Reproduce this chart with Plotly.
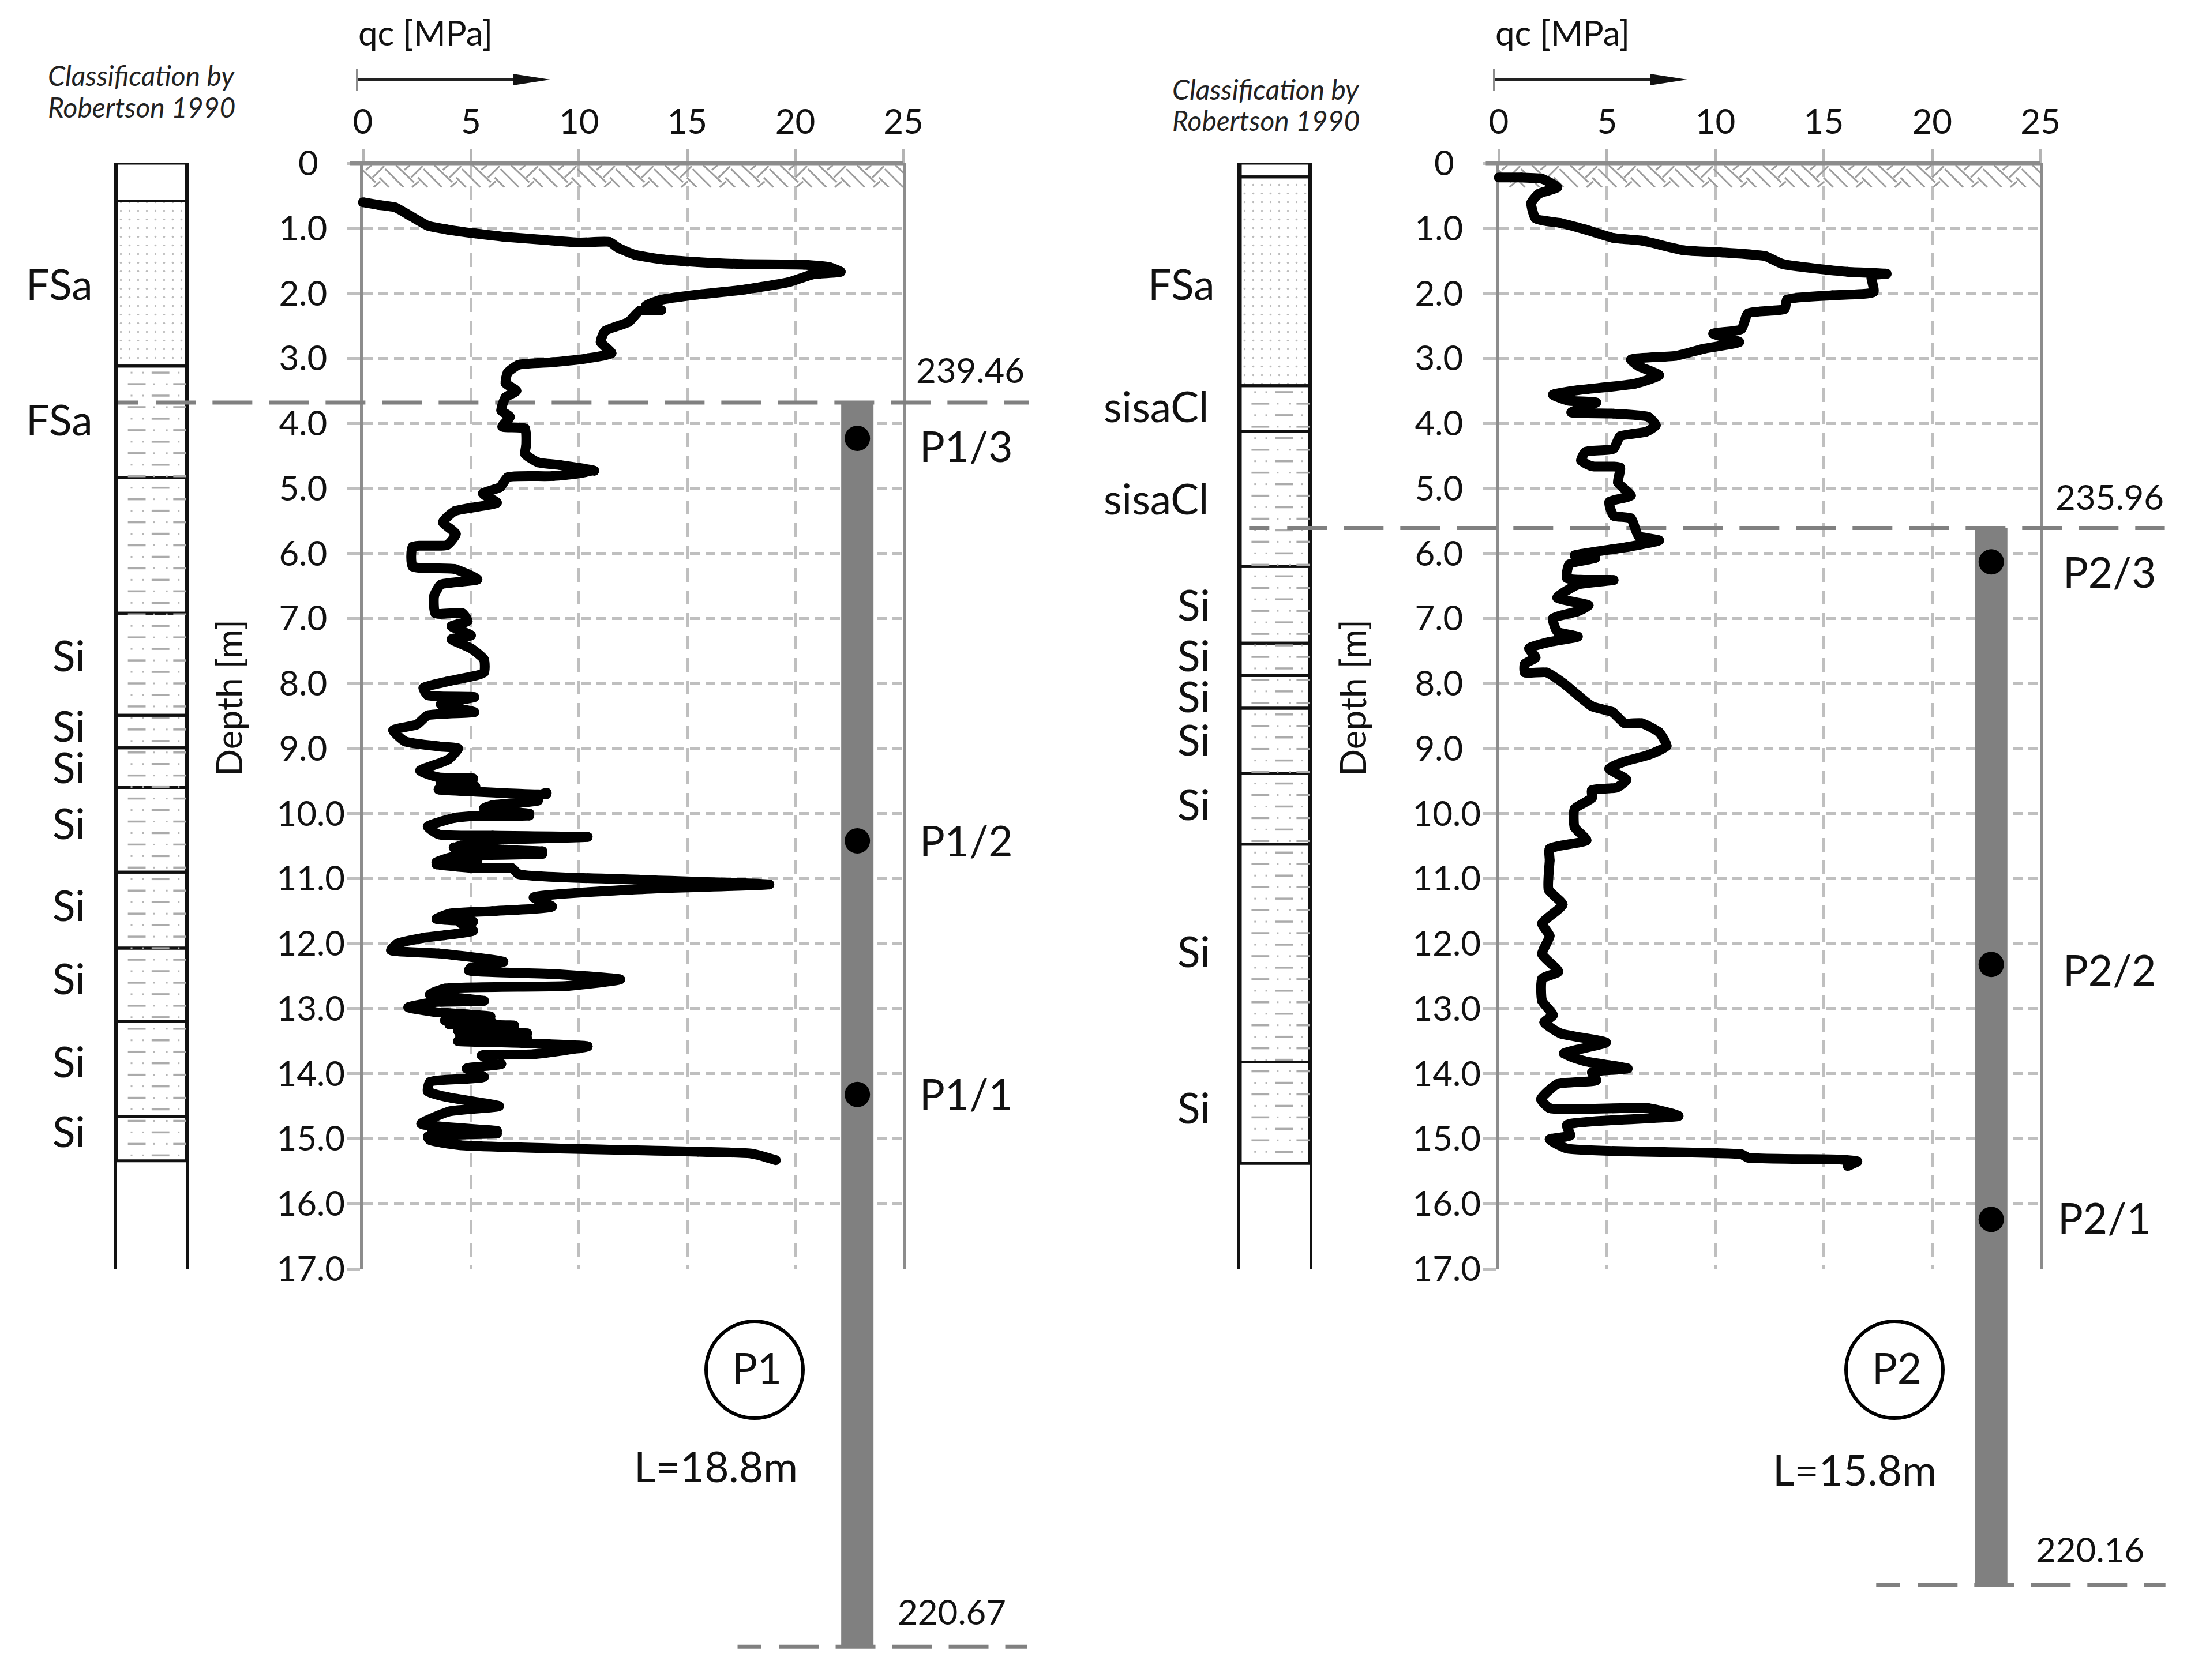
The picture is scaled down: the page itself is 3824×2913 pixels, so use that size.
import plotly.graph_objects as go

W, H = 3824, 2913
FONT = "Lato"
TOP, BOT = 283, 2200
OFF = 8  # the page body adds an 8px margin around the figure

# ---------- data ----------
p1_qc = [0,0.7,1.5,2.2,3.0,3.9,5.2,6.5,8.4,10.0,11.4,11.8,12.6,13.9,15.5,17.5,20.4,21.6,22.1,20.8,19.7,17.5,15.5,13.8,13.1,13.8,12.8,12.3,11.2,11.0,11.5,10.4,8.8,7.2,6.7,6.6,7.1,6.6,6.4,6.8,6.45,7.5,7.55,7.5,8.1,9.1,10.7,8.8,6.7,6.35,5.55,6.2,4.25,3.7,4.3,3.9,2.3,2.3,4.25,5.3,3.6,3.3,3.35,4.6,4.85,4.1,5.0,4.1,5.0,5.6,5.6,3.9,2.8,
         3.0,5.15,3.6,5.15,3.0,2.5,1.4,1.95,3.6,4.4,3.95,2.65,3.45,5.1,3.6,5.2,3.5,5.0,8.5,8.5,7.9,8.1,6.0,5.6,7.7,6.2,7.7,5.0,4.2,3.0,3.5,6.0,10.4,6.5,5.3,4.2,8.3,4.3,8.3,4.2,3.4,5.3,3.4,5.3,6.9,7.2,13.0,18.8,13.0,7.9,8.75,6.0,4.0,3.4,5.1,4.5,5.1,3.8,2.8,1.6,1.3,3.5,6.5,5.0,4.9,9.0,11.9,9.5,3.8,3.1,5.6,3.3,2.1,3.3,5.9,3.8,6.0,4.0,7.0,4.4,7.6,4.5,7.6,4.4,7.5,10.4,7.9,5.5,6.4,4.8,5.6,3.1,3.0,3.9,6.3,4.0,2.7,6.2,3.2,6.2,3.0,3.1,4.5,15.5,18.0,19.1]
p1_depth = [0.6,0.64,0.68,0.81,0.96,1.02,1.08,1.13,1.18,1.22,1.21,1.3,1.41,1.48,1.52,1.55,1.56,1.6,1.67,1.71,1.83,1.95,2.02,2.1,2.19,2.26,2.27,2.44,2.58,2.75,2.92,3.0,3.06,3.1,3.22,3.38,3.5,3.6,3.8,3.9,4.05,4.08,4.34,4.47,4.6,4.64,4.73,4.81,4.83,4.98,5.08,5.22,5.35,5.52,5.7,5.87,5.9,6.2,6.24,6.4,6.48,6.65,6.92,6.92,7.04,7.12,7.26,7.32,7.46,7.63,7.83,7.97,8.07,
            8.18,8.21,8.32,8.44,8.49,8.63,8.72,8.89,8.97,9.0,9.17,9.34,9.44,9.46,9.53,9.58,9.63,9.66,9.7,9.68,9.76,9.8,9.87,9.92,10.0,9.97,10.03,10.04,10.07,10.2,10.32,10.34,10.36,10.4,10.44,10.52,10.58,10.56,10.62,10.66,10.75,10.72,10.78,10.84,10.84,10.93,11.02,11.09,11.16,11.29,11.43,11.5,11.54,11.62,11.66,11.68,11.8,11.87,11.91,12.0,12.1,12.15,12.28,12.37,12.41,12.47,12.55,12.65,12.69,12.78,12.88,12.9,12.98,13.05,13.12,13.18,13.22,13.24,13.26,13.34,13.38,13.42,13.46,13.5,13.53,13.58,13.7,13.72,13.85,13.92,14.05,14.13,14.27,14.36,14.5,14.58,14.77,14.88,14.9,14.92,14.97,15.02,15.1,15.2,15.23,15.33]

p2_qc = [0,1.05,2.0,2.7,1.85,1.5,1.7,2.85,4.0,5.3,6.6,8.55,10.2,12.3,13.1,16.1,17.9,17.2,17.3,15.4,13.3,13.2,11.5,11.2,9.9,11.1,9.5,8.2,6.1,6.45,7.4,6.3,3.65,2.5,3.2,4.5,3.35,5.3,6.9,7.25,6.8,5.6,5.3,4.0,3.8,4.3,5.6,5.5,6.1,5.1,5.3,6.1,6.45,7.4,5.95,3.5,4.45,3.25,3.15,5.3,3.65,2.7,4.15,3.65,2.5,2.7,3.65,2.35,1.4,1.7,1.2,1.2,2.2,3.0,
         3.65,4.3,5.25,5.8,6.6,7.4,7.75,6.9,5.8,5.1,5.9,5.45,4.3,4.3,3.5,3.5,4.05,2.35,2.35,2.3,2.95,2.0,2.35,2.0,2.75,2.0,2.0,2.5,2.1,2.85,4.95,3.0,4.0,5.95,4.3,4.5,2.7,1.95,2.35,6.9,8.3,3.15,3.3,2.35,3.15,11.2,11.5,15.75,16.55,16.1]
p2_depth = [0.22,0.22,0.24,0.37,0.47,0.61,0.85,0.92,1.02,1.15,1.19,1.34,1.37,1.43,1.55,1.67,1.7,1.73,1.98,2.03,2.1,2.24,2.31,2.55,2.62,2.75,2.85,2.96,3.02,3.12,3.26,3.39,3.49,3.56,3.65,3.68,3.83,3.85,3.9,4.03,4.13,4.2,4.39,4.44,4.57,4.66,4.68,4.91,5.11,5.21,5.42,5.46,5.73,5.8,5.9,6.03,6.07,6.17,6.38,6.41,6.48,6.68,6.8,6.89,7.0,7.2,7.28,7.36,7.46,7.6,7.7,7.83,7.83,8.0,
            8.18,8.35,8.44,8.61,8.61,8.75,8.96,9.1,9.2,9.31,9.48,9.6,9.64,9.76,9.93,10.21,10.41,10.54,10.72,11.17,11.4,11.69,11.88,12.16,12.43,12.54,12.88,13.1,13.21,13.38,13.52,13.69,13.81,13.92,13.98,14.1,14.16,14.39,14.53,14.53,14.65,14.79,14.95,15.01,15.15,15.24,15.29,15.32,15.35,15.42]

qc_ticks = [0, 5, 10, 15, 20, 25]
depth_ticks = list(range(0, 18))

p1_layer_tops = [0, 0.58, 3.12, 4.83, 6.92, 8.49, 8.99, 9.6, 10.9, 12.07, 13.2, 14.66]
p1_layer_bots = [0.58, 3.12, 4.83, 6.92, 8.49, 8.99, 9.6, 10.9, 12.07, 13.2, 14.66, 15.34]
p1_layer_kind = ["fill", "sand"] + ["silt"] * 10
p2_layer_tops = [0, 0.21, 3.42, 4.12, 6.2, 7.38, 7.88, 8.38, 9.38, 10.47, 13.82]
p2_layer_bots = [0.21, 3.42, 4.12, 6.2, 7.38, 7.88, 8.38, 9.38, 10.47, 13.82, 15.38]
p2_layer_kind = ["fill", "sand"] + ["silt"] * 9

p1_pile_x, p1_pile_top, p1_pile_bot = 22.87, 3.68, 22.81
p2_pile_x, p2_pile_top, p2_pile_bot = 22.73, 5.61, 21.86
p1_sensor_depth = [4.23, 10.42, 14.32]
p2_sensor_depth = [6.13, 12.32, 16.24]

# ---------- helpers ----------
def fx(px): return (px - OFF) / W
def fy(px): return 1 - (px - OFF) / H

fig = go.Figure()
ydomain = [fy(BOT), fy(TOP)]

def tick_text(v):
    if v == 0:
        return "0" + "\u00a0" * 3
    s = f"{v}.0"
    return s if v >= 10 else s + "\u00a0" * 2

def main_axes(n, x0, x1):
    fig.update_layout({
        f"xaxis{n}": dict(domain=[fx(x0), fx(x1)], range=[0, 25], side="top", anchor=f"y{n}", automargin=False,
                 tickmode="array", tickvals=qc_ticks, ticktext=[str(t) for t in qc_ticks],
                 ticks="outside", ticklen=23, tickwidth=5, tickcolor="#b4b4b4",
                 showline=False, showgrid=True, griddash="24px,15px", gridcolor="#bfbfbf", gridwidth=5,
                 zeroline=False, tickfont=dict(family=FONT, size=60, color="#111"), ticklabelstandoff=3),
        f"yaxis{n}": dict(domain=ydomain, range=[17, 0], anchor=f"x{n}", automargin=False,
                 tickmode="array", tickvals=depth_ticks, ticktext=[tick_text(t) for t in depth_ticks],
                 ticks="outside", ticklen=22, tickwidth=5, tickcolor="#bfbfbf",
                 showline=True, mirror=True, linecolor="#8c8c8c", linewidth=5,
                 showgrid=True, griddash="17px,10px", gridcolor="#bfbfbf", gridwidth=5,
                 zeroline=False, tickfont=dict(family=FONT, size=60, color="#111"), ticklabelstandoff=-8),
    })

def col_axes(n, x0, x1):
    fig.update_layout({
        f"xaxis{n}": dict(domain=[fx(x0), fx(x1)], range=[0, 1], anchor=f"y{n}", visible=False, automargin=False),
        f"yaxis{n}": dict(domain=ydomain, range=[17, 0], anchor=f"x{n}", showticklabels=False, ticks="", automargin=False,
                 showgrid=False, zeroline=False, showline=True, mirror=True, linecolor="#111", linewidth=5),
    })

def page_axes(n, x0, x1):
    """Invisible full-page axes sharing the panel's scales, for marks that leave the plot area."""
    sx = (x1 - x0) / 25
    sy = (BOT - TOP) / 17
    fig.update_layout({
        f"xaxis{n}": dict(domain=[0, 1], range=[-(x0 - OFF) / sx, (W - (x0 - OFF)) / sx], anchor=f"y{n}", visible=False, automargin=False),
        f"yaxis{n}": dict(domain=[0, 1], range=[(H - (TOP - OFF)) / sy, -(TOP - OFF) / sy], anchor=f"x{n}", visible=False, automargin=False),
    })

col_axes("", 202, 323)
main_axes(2, 629, 1566)
col_axes(3, 2150, 2270)
main_axes(4, 2598, 3537)
page_axes(5, 629, 1566)
page_axes(6, 2598, 3537)

ROW_A_DASH, ROW_A_DOT = [0.63], [0.215, 0.376, 0.89]
ROW_B_DASH, ROW_B_DOT = [0.29, 0.94], [0.54, 0.72]
ROW_STEP = 0.177

def add_column(tops, bots, kinds, xa, ya):
    for kind in ["fill", "sand", "silt"]:
        t = [a for a, k in zip(tops, kinds) if k == kind]
        b = [a for a, k in zip(bots, kinds) if k == kind]
        pattern = dict(shape=".", size=15, solidity=0.045, fgcolor="#777", bgcolor="rgba(0,0,0,0)") if kind == "sand" else None
        fig.add_trace(go.Bar(x=[0.5] * len(t), y=[q - p for p, q in zip(t, b)], base=t, width=[1] * len(t),
                             xaxis=xa, yaxis=ya, hoverinfo="skip",
                             marker=dict(color="rgba(0,0,0,0)", line=dict(color="#111", width=5), pattern=pattern)))
    silt_start = min(a for a, k in zip(tops, kinds) if k == "silt") + 0.1
    silt_end = bots[-1]
    dx, dy, px, py = [], [], [], []
    i = 0
    d = silt_start
    while d < silt_end - 0.02:
        dash, dot = (ROW_A_DASH, ROW_A_DOT) if i % 2 == 0 else (ROW_B_DASH, ROW_B_DOT)
        dx += dash; dy += [d] * len(dash)
        px += dot; py += [d] * len(dot)
        d += ROW_STEP; i += 1
    fig.add_trace(go.Scatter(x=dx, y=dy, mode="markers", xaxis=xa, yaxis=ya, hoverinfo="skip",
                             marker=dict(symbol="line-ew", size=22, line=dict(color="#ababab", width=3.5))))
    fig.add_trace(go.Scatter(x=px, y=py, mode="markers", xaxis=xa, yaxis=ya, hoverinfo="skip",
                             marker=dict(symbol="square", size=3, color="#b5b5b5")))

add_column(p1_layer_tops, p1_layer_bots, p1_layer_kind, "x", "y")
add_column(p2_layer_tops, p2_layer_bots, p2_layer_kind, "x3", "y3")

# ground hatch, one herringbone tile repeated along the surface
HATCH_TILE = [(-29,10,66,100),(46,10,16,35),(111,15,51,75),(116,30,211,125),(86,75,136,125),(91,95,56,125)]
def add_hatch(xa, ya):
    xs, ys = [], []
    for n in range(16):
        for a, b, c, d in HATCH_TILE:
            xs += [(a + 200 * n) / 112.5, (c + 200 * n) / 112.5, None]
            ys += [b / 339.6, d / 339.6, None]
    fig.add_trace(go.Scatter(x=xs, y=ys, mode="lines", xaxis=xa, yaxis=ya, hoverinfo="skip",
                             line=dict(color="#9c9c9c", width=3)))

DASH = "69px,29px,"
def elev_dash(first):
    return f"{first}px,31px," + (DASH * 30).rstrip(",")

def add_panel(xa, ya, pa, pb, qc, depth, pile_x, pile_top, pile_bot, sensors, x_top, x_bot):
    add_hatch(xa, ya)
    fig.add_trace(go.Scatter(x=[-0.6, 25], y=[0, 0], mode="lines", xaxis=pa, yaxis=pb,
                             hoverinfo="skip", line=dict(color="#8c8c8c", width=7)))
    fig.add_trace(go.Scatter(x=[pile_x, pile_x], y=[pile_top, pile_bot], mode="lines", xaxis=pa, yaxis=pb,
                             hoverinfo="skip", line=dict(color="#808080", width=56)))
    fig.add_trace(go.Scatter(x=x_top, y=[pile_top, pile_top], mode="lines", xaxis=pa, yaxis=pb,
                             hoverinfo="skip", line=dict(color="#808080", width=7, dash=elev_dash(35))))
    fig.add_trace(go.Scatter(x=x_bot, y=[pile_bot, pile_bot], mode="lines", xaxis=pa, yaxis=pb,
                             hoverinfo="skip", line=dict(color="#808080", width=7, dash=elev_dash(41))))
    fig.add_trace(go.Scatter(x=qc, y=depth, mode="lines+markers", xaxis=pa, yaxis=pb,
                             line=dict(color="#000", width=17, shape="spline", smoothing=0.5),
                             marker=dict(color="#000", size=17)))
    fig.add_trace(go.Scatter(x=[pile_x] * len(sensors), y=sensors, mode="markers", xaxis=pa, yaxis=pb,
                             marker=dict(color="#000", size=44)))

add_panel("x2", "y2", "x5", "y5", p1_qc, p1_depth, p1_pile_x, p1_pile_top, p1_pile_bot, p1_sensor_depth, [-11.33, 30.8], [17.33, 30.72])
add_panel("x4", "y4", "x6", "y6", p2_qc, p2_depth, p2_pile_x, p2_pile_top, p2_pile_bot, p2_sensor_depth, [-11.52, 30.74], [17.42, 30.77])

# text
labels = [
    ("qc [MPa]", 737, 60, 60), ("qc [MPa]", 2708, 60, 60),
    ("FSa", 102, 496, 73), ("FSa", 102, 731, 73),
    ("Si", 119, 1140, 73), ("Si", 119, 1262, 73), ("Si", 119, 1334, 73), ("Si", 119, 1431, 73),
    ("Si", 119, 1573, 73), ("Si", 119, 1700, 73), ("Si", 119, 1844, 73), ("Si", 119, 1965, 73),
    ("FSa", 2047, 496, 73), ("sisaCl", 2004, 708, 73), ("sisaCl", 2004, 868, 73),
    ("Si", 2069, 1052, 73), ("Si", 2069, 1140, 73), ("Si", 2069, 1211, 73), ("Si", 2069, 1286, 73),
    ("Si", 2069, 1398, 73), ("Si", 2069, 1653, 73), ("Si", 2069, 1924, 73),
    ("239.46", 1682, 645, 60), ("235.96", 3657, 865, 60), ("220.67", 1650, 2798, 60), ("220.16", 3623, 2690, 60),
    ("P1/3", 1675, 777, 73), ("P1/2", 1675, 1461, 73), ("P1/1", 1675, 1900, 73),
    ("P2/3", 3657, 995, 73), ("P2/2", 3657, 1685, 73), ("P2/1", 3648, 2115, 73),
    ("L=18.8m", 1241, 2546, 73), ("L=15.8m", 3215, 2552, 73),
    ("P1", 1312, 2375, 73), ("P2", 3288, 2375, 73),
]
ann = [dict(text=t, x=fx(x), y=fy(y - 4), xref="paper", yref="paper", xanchor="center", yanchor="middle",
            showarrow=False, font=dict(family=FONT, size=s, color="#111")) for t, x, y, s in labels]
for t, x, y in [("Classification by", 245, 130), ("Robertson 1990", 245, 185),
                ("Classification by", 2194, 155), ("Robertson 1990", 2194, 208)]:
    ann.append(dict(text=f"<i>{t}</i>", x=fx(x), y=fy(y), xref="paper", yref="paper", xanchor="center",
                    yanchor="middle", showarrow=False, font=dict(family=FONT, size=48, color="#222")))
for x in [396, 2344]:
    ann.append(dict(text="Depth [m]", x=fx(x), y=fy(1210), xref="paper", yref="paper", xanchor="center",
                    yanchor="middle", textangle=-90, showarrow=False, font=dict(family=FONT, size=62, color="#111")))

shapes = []
for x0, x1 in [(619, 954), (2590, 2925)]:
    shapes.append(dict(type="line", xref="paper", yref="paper", x0=fx(x0), x1=fx(x1 - 30), y0=fy(138), y1=fy(138),
                       line=dict(color="#222", width=5)))
    shapes.append(dict(type="line", xref="paper", yref="paper", x0=fx(x0), x1=fx(x0), y0=fy(120), y1=fy(157),
                       line=dict(color="#8c8c8c", width=4)))
    shapes.append(dict(type="path", xref="paper", yref="paper", fillcolor="#111", line=dict(width=0),
                       path=f"M {fx(x1-65)} {fy(128)} L {fx(x1)} {fy(138)} L {fx(x1-65)} {fy(148)} Z"))
for cx in [1308, 3284]:
    shapes.append(dict(type="circle", xref="paper", yref="paper", x0=fx(cx - 84), x1=fx(cx + 84),
                       y0=fy(2375 + 84), y1=fy(2375 - 84), line=dict(color="#000", width=6)))

fig.update_layout(width=W, height=H, margin=dict(l=0, r=0, t=0, b=0), paper_bgcolor="white", plot_bgcolor="rgba(0,0,0,0)",
                  showlegend=False, barmode="overlay", annotations=ann, shapes=shapes, font=dict(family=FONT))
fig.write_html("out.html")
